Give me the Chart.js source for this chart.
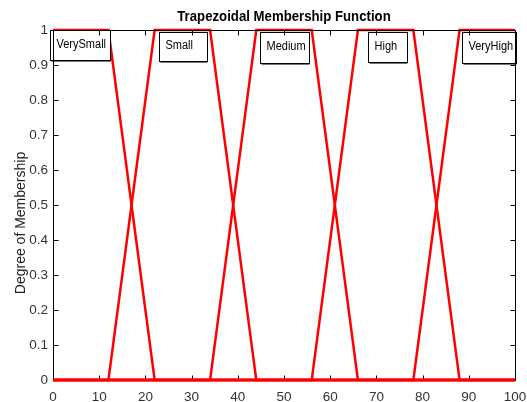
<!DOCTYPE html>
<html>
<head>
<meta charset="utf-8">
<script src="https://cdn.jsdelivr.net/npm/chart.js@4/dist/chart.umd.min.js"></script>
<style>
html,body{margin:0;padding:0;background:#fff;}
#wrap{width:527px;height:402px;position:relative;}
</style>
</head>
<body>
<div id="wrap"><canvas id="c" width="527" height="402"></canvas></div>
<script>
// ---- data ----
const mfNames = ['VerySmall', 'Small', 'Medium', 'High', 'VeryHigh'];
const verySmallX = [0, 12, 22, 100];
const verySmallY = [1, 1, 0, 0];
const smallX = [0, 12, 22, 34, 44, 100];
const smallY = [0, 0, 1, 1, 0, 0];
const mediumX = [0, 34, 44, 56, 66, 100];
const mediumY = [0, 0, 1, 1, 0, 0];
const highX = [0, 56, 66, 78, 88, 100];
const highY = [0, 0, 1, 1, 0, 0];
const veryHighX = [0, 78, 88, 100];
const veryHighY = [0, 0, 1, 1];
const xTickValues = [0, 10, 20, 30, 40, 50, 60, 70, 80, 90, 100];
const yTickValues = [0, 0.1, 0.2, 0.3, 0.4, 0.5, 0.6, 0.7, 0.8, 0.9, 1];
const titleText = 'Trapezoidal Membership Function';
const yAxisTitle = 'Degree of Membership';

const seriesX = [verySmallX, smallX, mediumX, highX, veryHighX];
const seriesY = [verySmallY, smallY, mediumY, highY, veryHighY];

const datasets = mfNames.map((name, i) => ({
  label: name,
  data: seriesX[i].map((x, j) => ({x: x, y: seriesY[i][j]})),
  borderColor: '#ff0000',
  backgroundColor: '#ff0000',
  borderWidth: 2.5,
  pointRadius: 0,
  tension: 0,
  fill: false,
  clip: 3
}));

// label box placement (style/position config, not data)
const labelBoxes = [
  {dx: -0.65, dy: 1.0,   w: 60, h: 30},
  {dx: 22.94, dy: 0.994, w: 48, h: 29},
  {dx: 44.8,  dy: 0.994, w: 49, h: 31},
  {dx: 68.2,  dy: 0.994, w: 39, h: 30},
  {dx: 88.5,  dy: 0.994, w: 54, h: 31}
];

const matlabPlugin = {
  id: 'matlabAxes',
  afterDatasetsDraw(chart) {
    const ctx = chart.ctx;
    const xs = chart.scales.x, ys = chart.scales.y;
    const a = chart.chartArea;
    ctx.save();
    // text boxes
    ctx.font = '12.5px "Liberation Sans", Arial, sans-serif';
    ctx.textBaseline = 'middle';
    ctx.textAlign = 'left';
    mfNames.forEach((name, i) => {
      const b = labelBoxes[i];
      const left = Math.round(xs.getPixelForValue(b.dx)) + 0.5;
      const top = Math.round(ys.getPixelForValue(b.dy)) + 0.5;
      ctx.fillStyle = '#fff';
      ctx.fillRect(left, top, b.w, b.h);
      ctx.save();
      ctx.beginPath();
      ctx.rect(left, top, b.w, b.h);
      ctx.clip();
      ctx.fillStyle = '#000';
      ctx.translate(left + 6, top + b.h / 2 - 1);
      ctx.scale(0.88, 1);
      ctx.fillText(name, 0, 0);
      ctx.restore();
      ctx.strokeStyle = '#000';
      ctx.lineWidth = 1;
      ctx.strokeRect(left, top, b.w, b.h);
      ctx.strokeStyle = '#777';
      ctx.beginPath();
      ctx.moveTo(left + 1, top + b.h + 1);
      ctx.lineTo(left + b.w, top + b.h + 1);
      ctx.stroke();
    });
    // axes box
    ctx.strokeStyle = '#000';
    ctx.lineWidth = 1;
    const L = Math.round(a.left) + 0.5, R = Math.round(a.right) + 0.5;
    const T = Math.round(a.top) + 0.5, B = Math.round(a.bottom) + 0.5;
    ctx.beginPath();
    ctx.moveTo(L, T); ctx.lineTo(R, T); ctx.lineTo(R, B); ctx.lineTo(L, B); ctx.closePath();
    ctx.stroke();
    // inward ticks
    const tl = 5;
    ctx.beginPath();
    xTickValues.forEach(v => {
      const px = Math.round(xs.getPixelForValue(v)) + 0.5;
      ctx.moveTo(px, B); ctx.lineTo(px, B - tl);
      ctx.moveTo(px, T); ctx.lineTo(px, T + tl);
    });
    yTickValues.forEach(v => {
      const py = Math.round(ys.getPixelForValue(v)) + 0.5;
      ctx.moveTo(L, py); ctx.lineTo(L + tl, py);
      ctx.moveTo(R, py); ctx.lineTo(R - tl, py);
    });
    ctx.stroke();
    // zero-level red line on top of bottom border
    ctx.strokeStyle = '#ff0000';
    ctx.lineWidth = 2.5;
    ctx.beginPath();
    ctx.moveTo(a.left, ys.getPixelForValue(0));
    ctx.lineTo(a.right, ys.getPixelForValue(0));
    ctx.stroke();

    // title (MATLAB-like condensed bold)
    ctx.fillStyle = '#000';
    ctx.font = 'bold 15px "Liberation Sans", Arial, sans-serif';
    ctx.textAlign = 'center';
    ctx.textBaseline = 'middle';
    ctx.save();
    ctx.translate((a.left + a.right) / 2, 17);
    ctx.scale(0.88, 1);
    ctx.fillText(titleText, 0, 0);
    ctx.restore();

    // y axis title
    ctx.save();
    ctx.fillStyle = '#222';
    ctx.font = '14px "Liberation Sans", Arial, sans-serif';
    ctx.translate(21, 223);
    ctx.rotate(-Math.PI / 2);
    ctx.textAlign = 'center';
    ctx.textBaseline = 'middle';
    ctx.fillText(yAxisTitle, 0, 0);
    ctx.restore();
    ctx.restore();
  }
};

new Chart(document.getElementById('c'), {
  type: 'line',
  data: {datasets: datasets},
  options: {
    responsive: false,
    animation: false,
    devicePixelRatio: 1,
    layout: {padding: {left: 0, right: 12, top: 30, bottom: 0}},
    plugins: {
      legend: {display: false},
      tooltip: {enabled: false},
      title: {display: false, text: titleText}
    },
    scales: {
      x: {
        type: 'linear',
        min: 0, max: 100,
        afterBuildTicks: s => { s.ticks = xTickValues.map(v => ({value: v})); },
        afterFit: s => { s.height = 22; s.paddingRight = 0; s.paddingLeft = 0; },
        grid: {display: false, drawTicks: false},
        border: {display: false},
        ticks: {
          padding: 9,
          color: '#333',
          maxRotation: 0,
          font: {family: '"Liberation Sans", Arial, sans-serif', size: 13.5},
          callback: v => String(v)
        }
      },
      y: {
        type: 'linear',
        min: 0, max: 1,
        afterBuildTicks: s => { s.ticks = yTickValues.map(v => ({value: v})); },
        afterFit: s => { s.width = 53; s.paddingTop = 0; s.paddingBottom = 0; },
        grid: {display: false, drawTicks: false},
        border: {display: false},
        title: {display: false, text: yAxisTitle},
        ticks: {
          padding: 5,
          color: '#333',
          font: {family: '"Liberation Sans", Arial, sans-serif', size: 13.5},
          callback: v => String(Number(v.toFixed(1)))
        }
      }
    }
  },
  plugins: [matlabPlugin]
});
</script>
</body>
</html>
